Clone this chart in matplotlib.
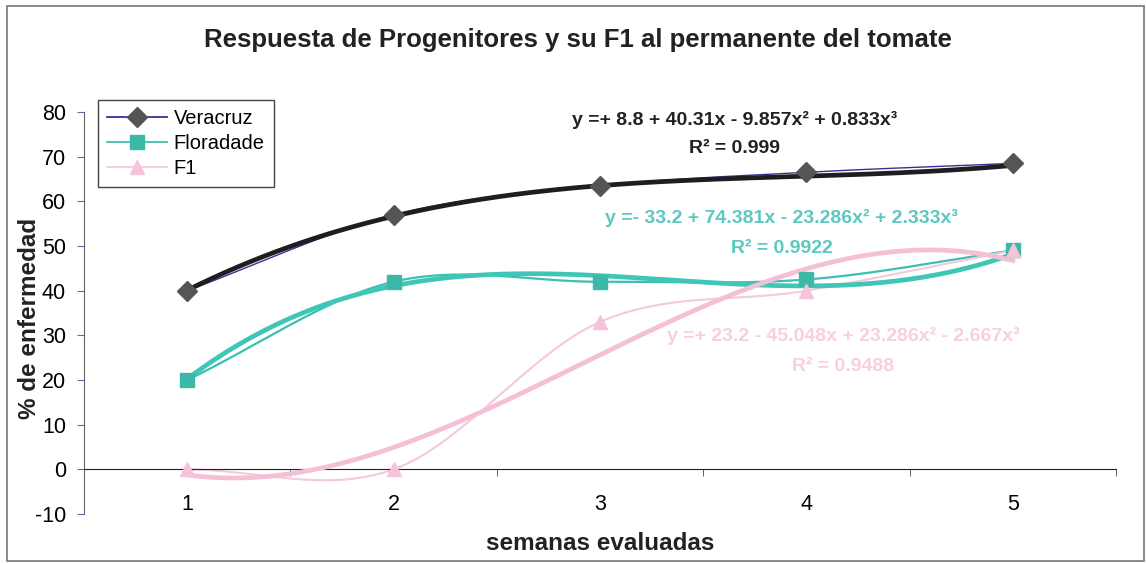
import numpy as np
import matplotlib.pyplot as plt
from matplotlib.patches import Rectangle

plt.rcParams['font.family'] = ['Liberation Sans', 'DejaVu Sans']
plt.rcParams['axes.unicode_minus'] = False

semanas = [1, 2, 3, 4, 5]
veracruz = [40, 57, 63.5, 66.5, 68.5]
floradade = [20, 42, 42, 42.5, 49]
f1 = [0, 0, 33, 40, 49]

# polynomial trendline coefficients (c0, c1, c2, c3) and R^2
coef_veracruz = [8.8, 40.31, -9.857, 0.833]
coef_floradade = [-33.2, 74.381, -23.286, 2.333]
coef_f1 = [23.2, -45.048, 23.286, -2.667]
r2_veracruz = '0.999'
r2_floradade = '0.9922'
r2_f1 = '0.9488'


def smooth(x, y, n=40):
    # Catmull-Rom style smoothing between consecutive points
    x = np.asarray(x, float)
    y = np.asarray(y, float)
    m = np.zeros_like(y)
    m[1:-1] = (y[2:] - y[:-2]) / 2
    m[0] = y[1] - y[0]
    m[-1] = y[-1] - y[-2]
    xs, ys = [], []
    for i in range(len(x) - 1):
        t = np.linspace(0, 1, n)
        h00 = 2 * t**3 - 3 * t**2 + 1
        h10 = t**3 - 2 * t**2 + t
        h01 = -2 * t**3 + 3 * t**2
        h11 = t**3 - t**2
        xs.append(x[i] + t * (x[i + 1] - x[i]))
        ys.append(h00 * y[i] + h10 * m[i] + h01 * y[i + 1] + h11 * m[i + 1])
    return np.concatenate(xs), np.concatenate(ys)


def poly(c, x):
    return c[0] + c[1] * x + c[2] * x**2 + c[3] * x**3


def eq_text(c):
    def term(v):
        s = '+' if v >= 0 else '-'
        return f'{s} {abs(v):g}'
    return (f'y ={term(c[0])} {term(c[1])}x {term(c[2])}x\u00b2 '
            f'{term(c[3])}x\u00b3')


fig = plt.figure(figsize=(11.46, 5.63), dpi=100)
ax = fig.add_axes([84 / 1146, 49 / 563, 1032 / 1146, 402 / 563])

xt = np.linspace(1, 5, 200)

series = [
    ('Veracruz', veracruz, coef_veracruz, '#333399', '#1e1e1e', 'D', '#555555', 10, 1.0),
    ('Floradade', floradade, coef_floradade, '#3cc0b0', '#3fc6b6', 's', '#3cb8a8', 9.5, 1.6),
    ('F1', f1, coef_f1, '#f6c8dc', '#f5bfd8', '^', '#f5c3da', 10.5, 1.5),
]

for name, vals, coef, lc, tc, mk, mc, ms, lw in series:
    sx, sy = smooth(semanas, vals)
    ax.plot(sx, sy, color=lc, lw=lw, zorder=2)
    ax.plot(xt, poly(np.array(coef), xt), color=tc, lw=3.4, zorder=3)
    ax.plot(semanas, vals, linestyle='none', marker=mk, ms=ms,
            color=mc, markeredgecolor=mc, zorder=4)
    ax.plot([], [], color=lc, lw=1.3, marker=mk, ms=ms,
            markerfacecolor=mc, markeredgecolor=mc, label=name)

ax.set_xlim(0.5, 5.5)
ax.set_ylim(-10, 80)
ax.set_yticks(range(-10, 81, 10))
ax.set_xticks(semanas)
ax.set_xticks(np.arange(0.5, 5.6, 1), minor=True)

for s in ['top', 'right']:
    ax.spines[s].set_visible(False)
ax.spines['bottom'].set_position(('data', 0))
ax.spines['bottom'].set_color('#222222')
ax.spines['left'].set_color('#666666')
ax.tick_params(axis='y', direction='out', length=5, color='#6666aa',
               labelsize=15.5, pad=8)
ax.tick_params(axis='x', which='major', length=0, labelsize=15.5, pad=18)
ax.tick_params(axis='x', which='minor', direction='out', length=5,
               color='#444444')

eq_kw = dict(ha='center', va='center', fontsize=14, fontweight='bold')
ax.text(3.65, 78.3, eq_text(coef_veracruz), color='#222222', **eq_kw)
ax.text(3.65, 71.8, f'R\u00b2 = {r2_veracruz}', color='#222222', **eq_kw)
ax.text(3.88, 56.3, eq_text(coef_floradade), color='#5cc8c0', **eq_kw)
ax.text(3.88, 49.5, f'R\u00b2 = {r2_floradade}', color='#5cc8c0', **eq_kw)
ax.text(4.18, 29.8, eq_text(coef_f1), color='#f7cfe1', **eq_kw)
ax.text(4.18, 23.0, f'R\u00b2 = {r2_f1}', color='#f7cfe1', **eq_kw)

leg = ax.legend(loc='upper left', bbox_to_anchor=(98 / 1146, 1 - 100 / 563),
                bbox_transform=fig.transFigure, fontsize=14.5, frameon=True,
                fancybox=False, framealpha=1, edgecolor='#444444',
                handlelength=3.0, handletextpad=0.3, labelspacing=0.3,
                borderpad=0.45, borderaxespad=0)
leg.get_frame().set_linewidth(1)

fig.text(578 / 1146, 1 - 40 / 563,
         'Respuesta de Progenitores y su F1 al permanente del tomate',
         ha='center', va='center', fontsize=18.5, fontweight='bold',
         color='#222222')
fig.text(30 / 1146, 1 - 318 / 563, '% de enfermedad', rotation=90,
         ha='center', va='center', fontsize=17.5, fontweight='bold',
         color='#222222')
fig.text(600 / 1146, 1 - 543 / 563, 'semanas evaluadas', ha='center',
         va='center', fontsize=17.5, fontweight='bold', color='#222222')

fig.patches.append(Rectangle((7 / 1146, 2 / 563), 1137 / 1146, 555 / 563,
                             transform=fig.transFigure, fill=False,
                             edgecolor='#777777', lw=1.2))

fig.savefig('out.png', dpi=100)
